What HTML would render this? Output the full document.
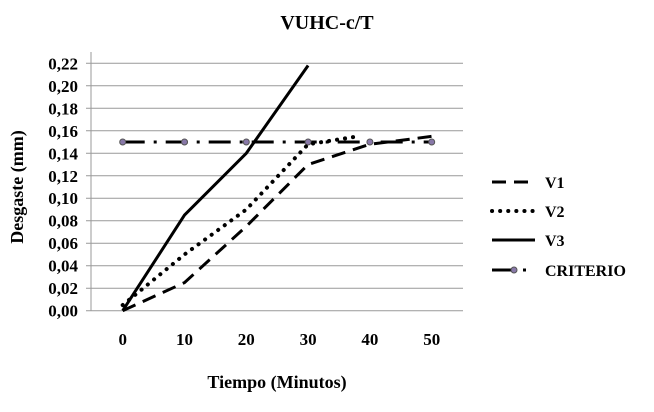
<!DOCTYPE html>
<html><head><meta charset="utf-8"><style>
body{margin:0;background:#fff;}
svg text{font-family:"Liberation Serif",serif;font-weight:bold;}
</style></head><body>
<svg width="654" height="407" viewBox="0 0 654 407">
<text x="327" y="29" text-anchor="middle" font-size="20">VUHC-c/T</text>
<g id="grid"></g><g id="axes"></g><g id="series"></g>
<text transform="translate(23,187) rotate(-90)" text-anchor="middle" font-size="18">Desgaste (mm)</text>
<text x="277" y="388" text-anchor="middle" font-size="18">Tiempo (Minutos)</text>
<g id="legend"></g>
</svg>
<script>
const xCats=[0,10,20,30,40,50];
const yTicks=[0,0.02,0.04,0.06,0.08,0.10,0.12,0.14,0.16,0.18,0.20,0.22];
const v1x=[0,10,20,30,40,50], v1=[0,0.025,0.075,0.13,0.148,0.155];
const v2x=[0,10,20,30,38], v2=[0.005,0.05,0.09,0.148,0.155];
const v3x=[0,10,20,30], v3=[0,0.085,0.14,0.218];
const critx=[0,10,20,30,40,50], crit=[0.15,0.15,0.15,0.15,0.15,0.15];
const NS="http://www.w3.org/2000/svg";
const X=v=>122.7+v*6.18, Y=v=>310.7-v*(247.4/0.22);
function mk(t,a,p){const e=document.createElementNS(NS,t);for(const k in a)e.setAttribute(k,a[k]);p.appendChild(e);return e;}
const g=document.getElementById('grid'), ax=document.getElementById('axes'), s=document.getElementById('series'), lg=document.getElementById('legend');
yTicks.forEach(v=>{const l=mk('line',{x1:86,x2:463,y1:Y(v),y2:Y(v),stroke:'#999','stroke-width':1},g);


const t=mk('text',{x:78,y:Y(v)+6,'text-anchor':'end','font-size':17},ax);t.textContent=v.toFixed(2).replace('.',',');

});
const a=mk('line',{x1:91,x2:91,y1:52,y2:311,stroke:'#999'},ax);


xCats.forEach(v=>{const t=mk('text',{x:X(v),y:345,'text-anchor':'middle','font-size':17},ax);t.textContent=v;

});
function line(xs,ys,dash,name,w){const p=mk('polyline',{points:xs.map((x,i)=>X(x)+','+Y(ys[i])).join(' '),fill:'none',stroke:'#000','stroke-width':w||3,'stroke-dasharray':dash||'none','stroke-linecap':dash==='0.1 8'?'round':'butt'},s);

}
line(critx,crit,'22 9 3 9','series-criterio');
critx.forEach((x,i)=>{const c=mk('circle',{cx:X(x),cy:Y(crit[i]),r:3,fill:'#8878a8',stroke:'#555'},s);

});
line(v1x,v1,'14 8','series-v1');
line(v2x,v2,'0.1 8','series-v2',4);
line(v3x,v3,'','series-v3');
const L=[['V1','14 8',182],['V2','0.1 8',211],['V3','',240],['CRITERIO','22 9 3 9',270]];
L.forEach(([n,d,y])=>{const l=mk('line',{x1:492,x2:535,y1:y,y2:y,stroke:'#000','stroke-width':d==='0.1 8'?4:3,'stroke-dasharray':d||'none','stroke-linecap':d==='0.1 8'?'round':'butt'},lg);


if(n==='CRITERIO'){const c=mk('circle',{cx:514,cy:y,r:3,fill:'#8878a8',stroke:'#555'},lg);

}
const t=mk('text',{x:545,y:y+6,'font-size':16},lg);t.textContent=n;

});
</script>
</body></html>
